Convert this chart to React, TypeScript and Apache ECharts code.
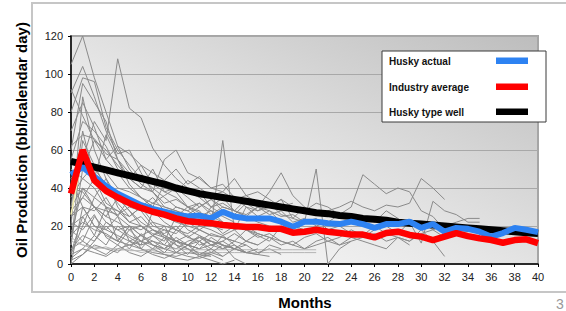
import React, { useEffect, useRef } from "react";
import * as echarts from "echarts";

const xTicks = { min: 0, max: 40, interval: 2 };
const yTicks = { min: 0, max: 120, interval: 20 };

const yAxisTitle = "Oil Production (bbl/calendar day)";
const xAxisTitle = "Months";

const legendNames = ["Husky actual", "Industry average", "Husky type well"];

const huskyActual = [47, 51, 46, 41, 37, 34, 31, 29, 27.5, 26, 25, 25.5, 24, 27.5, 25, 24, 24, 24, 22.3, 19.6, 22.3, 22.3, 21.4, 21, 22.3, 21, 19, 21, 21, 22.3, 19, 21, 17, 19, 18.5, 17, 14.4, 16.3, 19, 18, 16.8];
const industryAverage = [37, 60, 44, 38.5, 35, 32, 29.5, 27.5, 26, 24, 22.5, 22, 21.5, 20.5, 20, 19.5, 19.5, 18.5, 18.5, 16.5, 17, 18, 17, 16.3, 15.5, 15.5, 14, 16.3, 17, 15.3, 14.4, 12.6, 14.4, 16.3, 14.7, 13.5, 12.6, 11.2, 12.6, 13, 11];
const huskyTypeWell = [54, 52.5, 51, 49.5, 48, 46.5, 45, 43.5, 42, 40, 38.5, 37, 36, 35, 34, 33, 32, 31, 30, 29, 28, 27, 26.5, 25.5, 25, 24, 23.5, 23, 22, 21.5, 21, 20.5, 20, 19.5, 19, 18.5, 18, 17.5, 17, 16.5, 16];
const firstMonthTrace = [26, 57];

const well01 = [105, 120, 98, 80, 62, 50, 42, 38, 30, 28, 25, 22, 20, 18];
const well02 = [80, 98, 96, 72, 60, 52, 45, 40, 35, 30, 28, 24];
const well03 = [90, 104, 88, 70, 58, 60, 48, 38, 32, 34, 30, 27, 25, 22, 20, 18, 16];
const well04 = [45, 55, 75, 65, 108, 82, 77, 61, 52, 45, 40, 38, 30, 26];
const well05 = [60, 95, 85, 75, 55, 45, 40, 50, 38, 35, 30, 32, 28, 25, 22];
const well06 = [20, 88, 60, 45, 35, 28, 22, 18, 15, 12, 10, 8];
const well07 = [10, 50, 65, 60, 52, 45, 40, 38, 55, 60, 48, 45, 40, 42, 35, 30, 28, 32, 26, 24, 22];
const well08 = [30, 70, 45, 68, 55, 42, 35, 30, 25, 22, 20, 18, 15];
const well09 = [15, 40, 30, 25, 35, 28, 20, 15, 12, 25, 18, 15, 10, 8, 12, 10];
const well10 = [5, 20, 35, 45, 30, 22, 25, 18, 14, 10, 8, 6, 5];
const well11 = [50, 45, 40, 30, 25, 35, 28, 20, 18, 16, 22, 18, 15, 14, 12];
const well12 = [8, 12, 25, 18, 15, 12, 10, 28, 22, 18, 25, 20, 30, 35, 28, 25, 22, 20, 18];
const well13 = [25, 30, 20, 15, 12, 10, 8, 6, 5, 4, 6, 5, 4];
const well14 = [3, 8, 15, 10, 20, 15, 12, 10, 8, 12, 10, 15, 12, 10, 8, 12, 10];
const well15 = [12, 10, 8, 9, 7, 8, 6, 7, 6, 6, 6, 6, 6, 6, 6, 6, 6, 6, 6, 6, 6, 6];
const well16 = [30, 40, 35, 30, 28, 25, 30, 35, 28, 25, 30, 28, 20, 65, 18, 30, 25, 28, 22, 20, 18];
const well17 = [40, 60, 50, 42, 38, 33, 30, 28, 25, 30, 28, 32, 26, 30, 28, 26, 30, 28, 25, 26, 22, 50, 0, 8, 12];
const well18 = [62, 68, 66, 58, 55, 48, 45, 42, 40, 38, 44, 40, 36, 38, 34, 36, 32, 30, 34, 30, 28, 32, 30, 26, 30, 47, 42, 37, 40, 38, 28, 25, 18];
const well19 = [35, 45, 52, 48, 40, 38, 35, 32, 30, 28, 26, 30, 34, 28, 26, 32, 28, 30, 34, 24, 30, 26, 28, 30, 33, 30, 28, 31, 30, 32, 45, 40, 34];
const well20 = [20, 25, 30, 22, 18, 20, 15, 18, 16, 20, 14, 18, 22, 16, 20, 18, 15, 12, 20, 16, 22, 24, 18, 20, 16, 14, 18, 20, 16, 22, 11, 33, 28, 26, 22, 22];
const well21 = [15, 22, 18, 16, 12, 20, 15, 12, 10, 18, 14, 12, 16, 14, 12, 18, 14, 16, 12, 10, 14, 16, 12, 14, 18, 15, 20, 16, 14, 12, 18, 12, 4];
const well22 = [55, 75, 70, 62, 50, 45, 52, 42, 38, 40, 35, 30, 34, 30, 28, 25, 30, 26, 28, 22, 24, 20, 22, 26, 24, 25, 22, 28, 24, 20, 22, 18, 20, 22, 24, 24];
const well23 = [2, 5, 10, 8, 6, 12, 8, 5, 3, 6, 4, 3, 5, 2];
const well24 = [8, 15, 12, 22, 18, 14, 10, 12, 8, 6, 10, 8, 14, 10, 8, 6, 5, 4];
const well25 = [0, 30, 28, 35, 25, 20, 18, 22, 15, 12, 10, 14, 12, 10, 8, 10, 6, 8, 5];
const well26 = [70, 85, 72, 55, 62, 58, 52, 48, 44, 50, 42, 46, 40, 38, 45, 36, 38, 34, 30, 32];
const well27 = [40, 38, 30, 25, 22, 18, 20, 16, 14, 12, 15, 10, 12, 8, 10, 6];
const well28 = [18, 12, 8, 5, 10, 6, 4, 8, 5, 3, 2, 4, 2, 0, 2];
const well29 = [92, 78, 65, 55, 48, 40, 35, 30, 42, 38, 30, 25, 28, 22, 18, 20, 16, 14];
const well30 = [10, 65, 52, 40, 32, 25, 30, 22, 20, 18, 16, 20, 18, 15, 18, 12, 16, 14, 10, 12, 8, 10, 12, 10, 14, 12, 10, 8, 14, 12, 16, 18, 14];
const well31 = [28, 35, 45, 32, 28, 22, 20, 15, 18, 12, 10, 8, 10, 12, 8, 6];
const well32 = [5, 8, 6, 4, 8, 10, 12, 15, 10, 8, 12, 14, 10, 12, 16, 12, 10, 14, 12, 10, 8, 12, 14, 10, 12, 14, 16, 12, 14, 10];
const well33 = [25, 35, 30, 28, 26, 30, 28, 32, 36, 40, 38, 35, 30, 32, 28, 34, 30, 38, 48, 36, 30, 26];
const well34 = [14, 10, 9, 8, 8, 7, 7, 8, 8, 8, 7.5, 7.5, 7.5, 7.5, 7.5, 7.5, 7.5, 7.5, 7.5, 7.5, 7.5, 7.5];
const well35 = [0, 5, 12, 20, 14, 8, 16, 10, 6, 12, 8, 4, 6, 10, 3, 0];
const well36 = [22, 18, 26, 14, 10, 18, 12, 8, 14, 6, 10, 5, 8, 4];
const well37 = [6, 25, 15, 30, 12, 20, 8, 15, 20, 10, 5, 12, 8, 15, 10, 6, 8];
const well38 = [45, 30, 20, 18, 25, 12, 15, 10, 8, 14, 10, 12, 6, 4, 8, 6, 5, 10, 8];

const wells = [well01, well02, well03, well04, well05, well06, well07, well08, well09, well10, well11, well12, well13, well14, well15, well16, well17, well18, well19, well20, well21, well22, well23, well24, well25, well26, well27, well28, well29, well30, well31, well32, well33, well34, well35, well36, well37, well38];
const lightWells = [14, 33];

const toPairs = (arr: number[]) => arr.map((v, i) => [i, v]);

const FONT = "Liberation Sans, Arial, sans-serif";

export default function App() {
  const ref = useRef<HTMLDivElement>(null);
  useEffect(() => {
    if (!ref.current) return;
    const chart = echarts.init(ref.current, undefined, { renderer: "svg" });

    const wellSeries = wells.map((w, idx) => ({
      type: "line",
      name: "well" + (idx + 1),
      data: toPairs(w),
      symbol: "none",
      silent: true,
      z: 2,
      lineStyle: { color: lightWells.includes(idx) ? "#b4b4b4" : "#8a8a8a", width: 1 },
    }));

    const legendY = [61, 87, 112];
    const legendColors = ["#2d82f2", "#ff0000", "#000000"];
    const legendGraphics: any[] = [
      {
        type: "rect",
        shape: { x: 382, y: 51, width: 164, height: 71 },
        style: { fill: "#ffffff", stroke: "#3a3a3a", lineWidth: 1 },
        z: 100,
      },
    ];
    legendNames.forEach((n, i) => {
      legendGraphics.push({
        type: "text",
        x: 389,
        y: legendY[i],
        style: { text: n, font: "bold 10px " + FONT, fill: "#111", textVerticalAlign: "middle" },
        z: 101,
      });
      legendGraphics.push({
        type: "rect",
        shape: { x: 496, y: legendY[i] - 3.5, width: 32, height: 6.5 },
        style: { fill: legendColors[i] },
        z: 101,
      });
    });

    chart.setOption({
      animation: false,
      backgroundColor: "#ffffff",
      grid: {
        left: 71,
        right: 28,
        top: 36,
        bottom: 47,
        show: true,
        borderColor: "#a6a6a6",
        borderWidth: 2,
        backgroundColor: new echarts.graphic.LinearGradient(0, 1, 1, 0, [
          { offset: 0, color: "#ffffff" },
          { offset: 0.45, color: "#e6e6e6" },
          { offset: 1, color: "#bdbdbd" },
        ]),
      },
      xAxis: {
        type: "value",
        min: xTicks.min,
        max: xTicks.max,
        interval: xTicks.interval,
        axisLine: { lineStyle: { color: "#000", width: 1.5 } },
        axisTick: { show: true, length: 3, lineStyle: { color: "#000" } },
        axisLabel: { color: "#222", fontSize: 11, fontFamily: FONT, margin: 7 },
        splitLine: { show: false },
      },
      yAxis: {
        type: "value",
        min: yTicks.min,
        max: yTicks.max,
        interval: yTicks.interval,
        axisLine: { show: true, lineStyle: { color: "#000", width: 1.5 } },
        axisTick: { show: true, length: 3, lineStyle: { color: "#000" } },
        axisLabel: { color: "#222", fontSize: 11, fontFamily: FONT, margin: 8 },
        splitLine: { show: true, lineStyle: { color: "#a8a8a8", width: 1 } },
      },
      series: [
        ...wellSeries,
        {
          type: "line",
          name: "first month",
          data: toPairs(firstMonthTrace),
          symbol: "none",
          silent: true,
          z: 3,
          lineStyle: { color: "#f3eeb0", width: 1.5 },
        },
        {
          type: "line",
          name: legendNames[2],
          data: toPairs(huskyTypeWell),
          symbol: "none",
          silent: true,
          z: 4,
          lineStyle: { color: "#000000", width: 7 },
        },
        {
          type: "line",
          name: legendNames[0],
          data: toPairs(huskyActual),
          symbol: "none",
          silent: true,
          z: 5,
          lineStyle: { color: "#2d82f2", width: 6 },
        },
        {
          type: "line",
          name: legendNames[1],
          data: toPairs(industryAverage),
          symbol: "none",
          silent: true,
          z: 6,
          lineStyle: { color: "#ff0000", width: 6.5 },
        },
      ],
      graphic: [
        {
          type: "rect",
          shape: { x: 32, y: 3, width: 640, height: 289 },
          style: { fill: "none", stroke: "#c6c6c6", lineWidth: 2 },
          z: -10,
          silent: true,
        },
        {
          type: "text",
          x: 21,
          y: 140,
          rotation: Math.PI / 2,
          style: {
            text: yAxisTitle,
            font: "bold 15px " + FONT,
            fill: "#000",
            textAlign: "center",
            textVerticalAlign: "middle",
          },
        },
        {
          type: "text",
          x: 305,
          y: 302,
          style: {
            text: xAxisTitle,
            font: "bold 15px " + FONT,
            fill: "#000",
            textAlign: "center",
            textVerticalAlign: "middle",
          },
        },
        {
          type: "text",
          x: 556,
          y: 297,
          style: { text: "3", font: "14px " + FONT, fill: "#999" },
        },
        ...legendGraphics,
      ],
    });
    return () => chart.dispose();
  }, []);
  return (
    <div
      ref={ref}
      style={{ position: "fixed", left: 0, top: 0, width: 566, height: 311 }}
    />
  );
}
